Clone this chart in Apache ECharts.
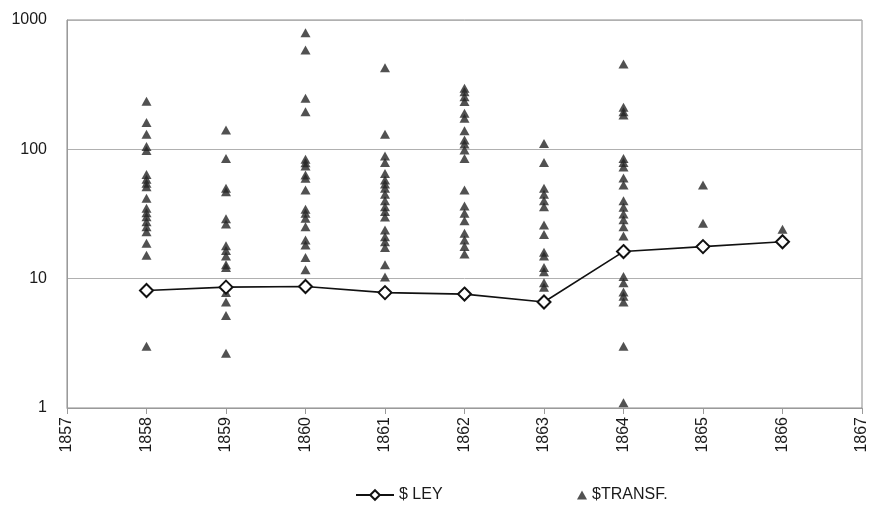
<!DOCTYPE html>
<html>
<head>
<meta charset="utf-8">
<script src="https://cdn.jsdelivr.net/npm/echarts@6/dist/echarts.min.js"></script>
<style>
html,body{margin:0;padding:0;background:#fff;}
#chart{width:870px;height:510px;}
</style>
</head>
<body>
<div id="chart"></div>
<script>
const years = [1858, 1859, 1860, 1861, 1862, 1863, 1864, 1865, 1866];
const ley = [8.1, 8.6, 8.7, 7.8, 7.6, 6.6, 16.2, 17.7, 19.3];

const transf1858 = [235, 161, 131, 105, 98, 64, 58.6, 54.6, 51.4, 41.8, 35, 32.4, 30.1, 27.6, 25.2, 23.1, 18.8, 15.2, 8.4, 3.0];
const transf1859 = [141, 85, 50, 47, 29, 26.5, 18, 16.5, 15, 12.8, 12.2, 8.8, 7.8, 6.6, 5.2, 2.65];
const transf1860 = [798, 586, 248, 195, 83.8, 78.8, 74.3, 63.4, 59.7, 48.4, 34.4, 32, 29.3, 25.2, 19.9, 18.2, 14.6, 11.7, 9.0];
const transf1861 = [428, 131, 89, 79, 65, 58, 54, 50, 45, 40, 36, 33, 30, 23.8, 21.1, 19.3, 17.4, 12.8, 10.3];
const transf1862 = [297, 279, 255, 234, 190, 174, 139, 118, 110, 99, 85, 48.5, 36.5, 32, 28.1, 22.4, 19.9, 17.7, 15.5];
const transf1863 = [111, 79, 50, 45, 40, 36, 26, 22, 16, 15, 12.2, 11.3, 9.3, 8.6];
const transf1864 = [457, 212, 195, 184, 85, 79, 73, 60, 53, 40, 35.6, 31.6, 28.5, 25.2, 21.4, 16.5, 10.4, 9.3, 7.9, 7.3, 6.6, 3.0, 1.1];
const transf1865 = [53, 26.8, 18.2];
const transf1866 = [24.1];

const transfByYear = [transf1858, transf1859, transf1860, transf1861, transf1862, transf1863, transf1864, transf1865, transf1866];

const yTicks = [1, 10, 100, 1000];

const leyData = years.map((y, i) => [y, ley[i]]);
const transfData = [];
years.forEach((y, i) => transfByYear[i].forEach(v => transfData.push([y, v])));

const chart = echarts.init(document.getElementById('chart'));
const font = 'Liberation Sans, Arial, sans-serif';
chart.setOption({
  animation: false,
  backgroundColor: '#fff',
  grid: {
    left: 67, right: 6, top: 20, bottom: 102,
    show: true, borderColor: '#8a8a8a', borderWidth: 1
  },
  xAxis: {
    type: 'value', min: 1857, max: 1867, interval: 1,
    axisLine: { lineStyle: { color: '#9a9a9a', width: 1 } },
    axisTick: { show: true, length: 6, inside: false, lineStyle: { color: '#9a9a9a' } },
    splitLine: { show: false },
    axisLabel: { rotate: 90, margin: 9, color: '#1a1a1a', fontSize: 16, fontFamily: font, formatter: v => String(v) }
  },
  yAxis: {
    type: 'log', logBase: 10, min: yTicks[0], max: yTicks[yTicks.length - 1],
    axisLine: { show: true, lineStyle: { color: '#9a9a9a', width: 1 } },
    axisTick: { show: false },
    minorTick: { show: false },
    splitLine: { show: true, lineStyle: { color: '#b0b0b0', width: 1 } },
    axisLabel: { margin: 20, color: '#1a1a1a', fontSize: 16, fontFamily: font, formatter: v => String(Math.round(v)) }
  },
  legend: [
    {
      data: ['$ LEY'], left: 350, top: 482, itemWidth: 38, itemHeight: 12, itemGap: 6,
      textStyle: { color: '#1a1a1a', fontSize: 16, fontFamily: font }
    },
    {
      data: ['$TRANSF.'], left: 572, top: 482, itemWidth: 10, itemHeight: 9, itemGap: 6,
      textStyle: { color: '#1a1a1a', fontSize: 16, fontFamily: font }
    }
  ],
  series: [
    {
      name: '$TRANSF.', type: 'scatter', data: transfData,
      symbol: 'triangle', symbolSize: [10, 9],
      itemStyle: { color: '#262626' }, z: 3
    },
    {
      name: '$ LEY', type: 'line', data: leyData,
      symbol: 'emptyDiamond', symbolSize: 13, showAllSymbol: true,
      lineStyle: { color: '#111', width: 1.6 },
      itemStyle: { color: '#111', borderColor: '#111', borderWidth: 1.5 }, z: 4
    }
  ]
});
</script>
</body>
</html>
